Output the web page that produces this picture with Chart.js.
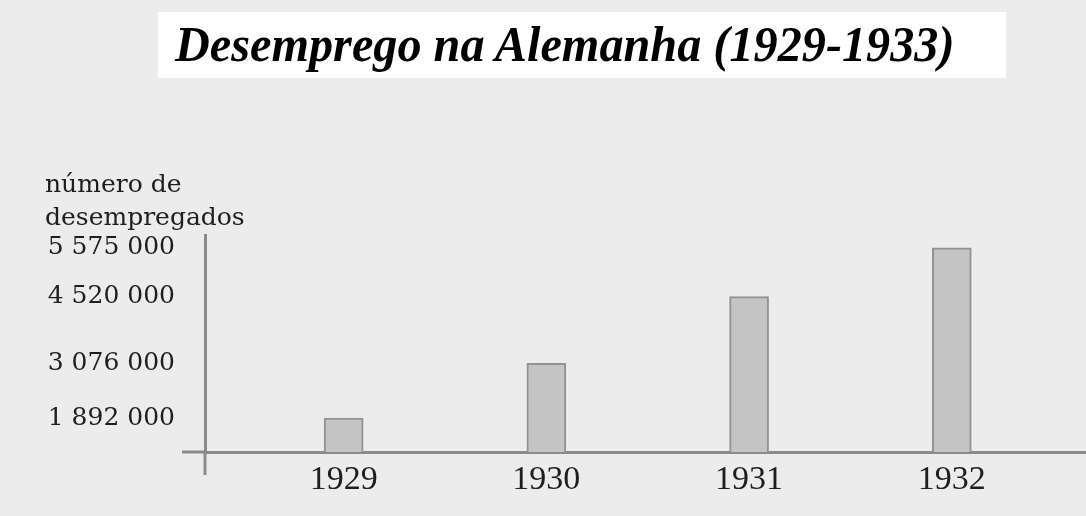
<!DOCTYPE html>
<html>
<head>
<meta charset="utf-8">
<script src="https://cdn.jsdelivr.net/npm/chart.js@4"></script>
<style>
  html, body { margin: 0; padding: 0; }
  body { width: 1086px; height: 516px; background: #ececec; position: relative; overflow: hidden; }
  #title {
    position: absolute; left: 158px; top: 12px; width: 848px; height: 66px;
    background: #ffffff; box-sizing: border-box; padding-left: 17px;
    font: italic bold 50px "Liberation Serif", serif; line-height: 64px; color: #000;
    white-space: nowrap;
  }
  #title span { display: inline-block; transform: scaleX(0.965); transform-origin: left center; }
  #ylabel {
    position: absolute; left: 45px; top: 167px;
    font: 25px "DejaVu Serif", serif; line-height: 33px; color: #1e1e1e;
  }
  #wrap { position: absolute; left: 0; top: 0; width: 1086px; height: 516px; }
</style>
</head>
<body>
<div id="wrap"><canvas id="chart" width="1086" height="516"></canvas></div>
<div id="title"><span>Desemprego na Alemanha (1929-1933)</span></div>
<div id="ylabel">número de<br>desempregados</div>
<script>
const years = [1929, 1930, 1931, 1932];
const unemployed = [1892000, 3076000, 4520000, 5575000];
const yTicks = [1892000, 3076000, 4520000, 5575000];

const axisColor = '#8a8a8a';

function spaced(v) {
  return String(v).replace(/\B(?=(\d{3})+(?!\d))/g, ' ');
}

// short pieces of the axes that stick out past the crossing point
const axisTails = {
  id: 'axisTails',
  afterDraw(chart) {
    const { ctx, chartArea } = chart;
    ctx.save();
    ctx.strokeStyle = axisColor;
    ctx.lineWidth = 3;
    ctx.beginPath();
    ctx.moveTo(chartArea.left - 23, chartArea.bottom);
    ctx.lineTo(chartArea.left, chartArea.bottom);
    ctx.moveTo(chartArea.left, chartArea.bottom);
    ctx.lineTo(chartArea.left, chartArea.bottom + 23);
    ctx.stroke();
    ctx.restore();
  }
};

const ctx = document.getElementById('chart').getContext('2d');
const chart = new Chart(ctx, {
  type: 'bar',
  data: {
    datasets: [{
      data: years.map((y, i) => ({ x: y, y: unemployed[i] })),
      backgroundColor: '#c4c4c4',
      borderColor: '#929292',
      borderWidth: 2,
      borderSkipped: 'bottom',
      barThickness: 39
    }]
  },
  options: {
    responsive: false,
    animation: false,
    layout: { padding: { top: 235, left: 0, right: 0, bottom: 0 } },
    plugins: {
      legend: { display: false },
      tooltip: { enabled: false }
    },
    scales: {
      x: {
        type: 'linear',
        offset: false,
        min: 1928.316,
        max: 1932.662,
        grid: { display: false, drawTicks: false, offset: false },
        border: { display: true, color: axisColor, width: 3 },
        afterBuildTicks: s => { s.ticks = years.map(v => ({ value: v })); },
        afterFit: s => { s.height = 64; },
        ticks: {
          padding: 8,
          color: '#1e1e1e',
          font: { family: 'Liberation Serif', size: 34 },
          callback: v => String(v)
        }
      },
      y: {
        min: 1161000,
        max: 5852000,
        grid: { display: false, drawTicks: false },
        border: { display: true, color: axisColor, width: 3 },
        afterBuildTicks: s => { s.ticks = yTicks.map(v => ({ value: v })); },
        afterFit: s => { s.width = 205; },
        ticks: {
          padding: 30,
          color: '#1e1e1e',
          font: { family: 'DejaVu Serif', size: 25 },
          callback: v => spaced(v)
        }
      }
    }
  },
  plugins: [axisTails]
});
</script>
</body>
</html>
